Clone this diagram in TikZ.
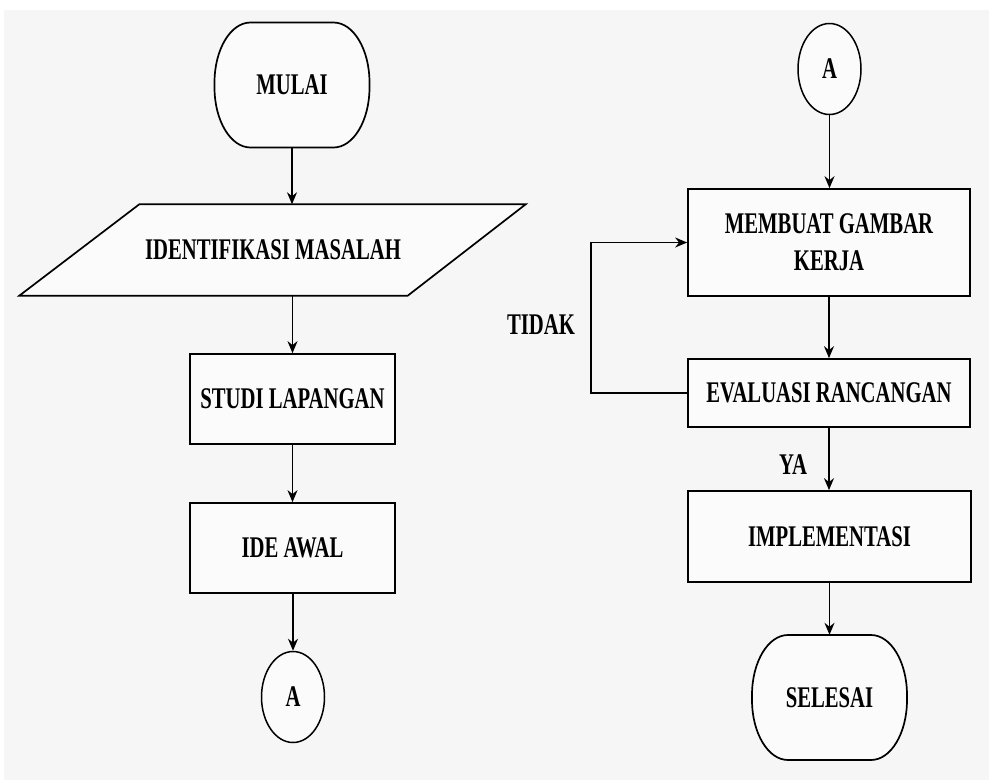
\documentclass[tikz,border=0pt]{standalone}
\usepackage{fontspec}
\setmainfont{Liberation Serif}
\usetikzlibrary{shapes.geometric,arrows.meta}
\definecolor{bgcol}{HTML}{F6F6F6}
\newcommand{\cnd}[1]{\scalebox{0.69}[1]{#1}}
\tikzset{
  x=1pt,y=-1pt,
  lbl/.style={font=\fontsize{30}{37}\selectfont\bfseries, inner sep=0pt, align=center},
  procbox/.style={lbl, draw, line width=1.7pt, fill=white!60!bgcol},
  conn/.style={lbl, draw, ellipse, line width=1.5pt, minimum width=63pt, minimum height=91pt, fill=white!60!bgcol},
  termnode/.style={lbl, minimum width=155pt, minimum height=125pt},
  arr/.style={line width=1.5pt, -{Stealth[length=12pt,width=10pt]}},
  edge/.style={line width=1.7pt}
}
\newcommand{\termpath}[2]{%
  \begin{scope}[shift={(#1,#2)}]
  \draw[edge, fill=white!60!bgcol] (-41.5,-62.5) -- (41.5,-62.5)
    .. controls (61.4,-62.5) and (77.5,-35.6) .. (77.5,-2.5) -- (77.5,2.5)
    .. controls (77.5,35.6) and (61.4,62.5) .. (41.5,62.5) -- (-41.5,62.5)
    .. controls (-61.4,62.5) and (-77.5,35.6) .. (-77.5,2.5) -- (-77.5,-2.5)
    .. controls (-77.5,-35.6) and (-61.4,-62.5) .. (-41.5,-62.5) -- cycle;
  \end{scope}}
\begin{document}
\begin{tikzpicture}
\useasboundingbox (0,0) rectangle (989,780);
\fill[white] (0,0) rectangle (989,780);
\fill[bgcol] (4,10) rectangle (989,780);

% left column
\termpath{292}{85}
\node[termnode] (mulai) at (292,85) {\cnd{MULAI}};

\node[lbl, minimum width=387pt, minimum height=91pt] (ident) at (273,250) {};
\draw[edge, fill=white!60!bgcol] ([xshift=60pt]ident.north west) -- ([xshift=59pt]ident.north east)
  -- ([xshift=-59pt]ident.south east) -- ([xshift=-60pt]ident.south west) -- cycle;
\node[lbl] at (ident) {\cnd{IDENTIFIKASI MASALAH}};

\node[procbox, minimum width=205pt, minimum height=90pt] (studi) at (292.5,399) {\cnd{STUDI LAPANGAN}};
\node[procbox, minimum width=205pt, minimum height=90pt] (ide) at (292.5,548) {\cnd{IDE AWAL}};
\node[conn] (a1) at (293,697) {\cnd{A}};

% right column
\node[conn] (a2) at (829.5,69) {\cnd{A}};
\node[procbox, minimum width=282pt, minimum height=107pt] (gambar) at (829,242.5) {\cnd{MEMBUAT GAMBAR}\\\cnd{KERJA}};
\node[procbox, minimum width=282pt, minimum height=68pt] (eval) at (829,393) {\cnd{EVALUASI RANCANGAN}};
\node[procbox, minimum width=283pt, minimum height=91pt] (impl) at (829.5,536.5) {\cnd{IMPLEMENTASI}};
\termpath{829.5}{697.5}
\node[termnode] (selesai) at (829.5,697.5) {\cnd{SELESAI}};

% connectors left
\draw[arr] (mulai.south) -- (mulai.south |- ident.north);
\draw[arr] (studi.north |- ident.south) -- (studi.north);
\draw[arr] (studi.south) -- (ide.north);
\draw[arr] (ide.south -| a1.north) -- (a1.north);

% connectors right
\draw[arr] (a2.south) -- (a2.south |- gambar.north);
\draw[arr] (gambar.south) -- (eval.north);
\draw[arr] (eval.south) -- (impl.north -| eval.south);
\draw[arr] (impl.south -| selesai.north) -- (selesai.north);
\coordinate (loopx) at (591,393);
\draw[arr] (eval.west) -- (loopx) |- (gambar.west);

% labels
\node[lbl] (tidak) at (541,325) {\cnd{TIDAK}};
\node[lbl] (ya) at (793,465) {\cnd{YA}};
\end{tikzpicture}
\end{document}
